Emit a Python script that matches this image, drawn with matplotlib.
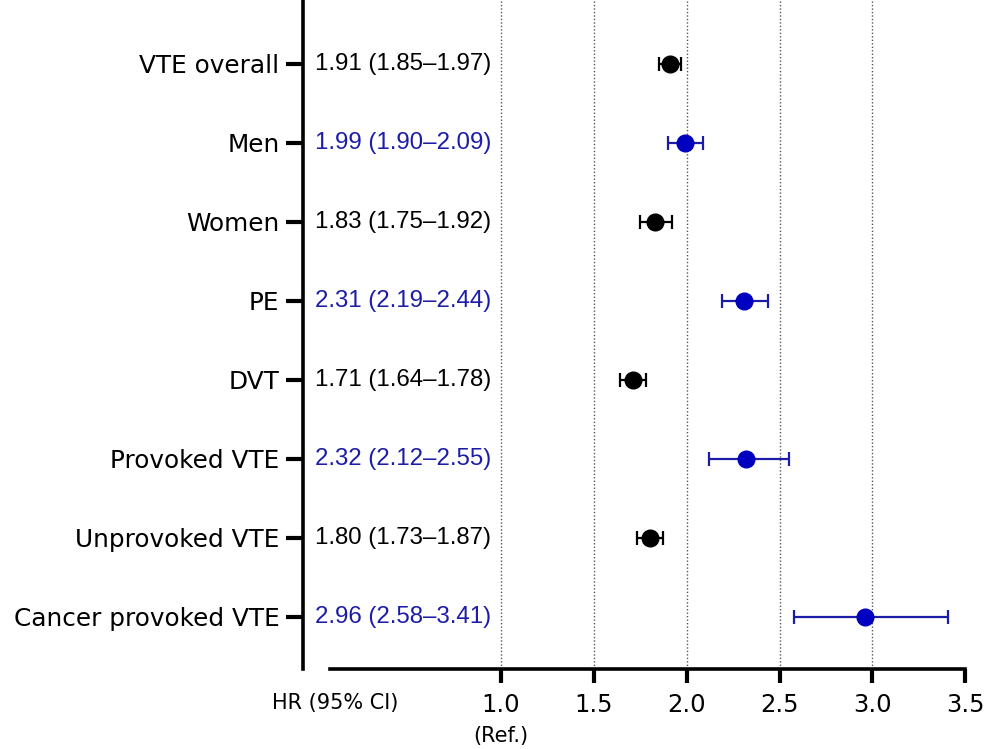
import matplotlib.pyplot as plt

# forest plot data
groups = ['VTE overall', 'Men', 'Women', 'PE', 'DVT', 'Provoked VTE',
          'Unprovoked VTE', 'Cancer provoked VTE']
hr = [1.91, 1.99, 1.83, 2.31, 1.71, 2.32, 1.80, 2.96]
lo = [1.85, 1.90, 1.75, 2.19, 1.64, 2.12, 1.73, 2.58]
hi = [1.97, 2.09, 1.92, 2.44, 1.78, 2.55, 1.87, 3.41]
xticks = [1.0, 1.5, 2.0, 2.5, 3.0, 3.5]

black = '#000000'
blue = '#1c1ca8'

fig = plt.figure(figsize=(9.86, 7.49), dpi=100)
ax = fig.add_axes([303/986, 1 - 669/749, (967 - 303)/986, 669/749])

for i in range(len(groups)):
    c = black if i % 2 == 0 else blue
    mc = black if i % 2 == 0 else '#0000c0'
    ax.errorbar(hr[i], i, xerr=[[hr[i] - lo[i]], [hi[i] - hr[i]]], fmt='o',
                color=c, mfc=mc, mec=mc, ms=12, elinewidth=1.6, capsize=5,
                capthick=1.6, zorder=3)
    ax.text(0.0, i, '%.2f (%.2f\u2013%.2f)' % (hr[i], lo[i], hi[i]),
            color=c, fontsize=17.3, family='Liberation Sans', va='center', ha='left')

for x in xticks[:-1]:
    ax.axvline(x, color='#555555', linestyle=(0, (1, 1.5)), linewidth=1.0, zorder=1)

ax.set_xlim(-0.067, 3.51)
ax.set_ylim(7.66, -0.81)
ax.set_yticks(range(len(groups)))
ax.set_yticklabels(groups, fontsize=17.8)
ax.set_xticks(xticks)
ax.set_xticklabels(['%.1f' % x for x in xticks], fontsize=17.5)
ax.tick_params(axis='y', length=12, width=3, pad=5)
ax.tick_params(axis='x', length=10, width=3, pad=7)

ax.spines['top'].set_visible(False)
ax.spines['right'].set_visible(False)
ax.spines['left'].set_linewidth(2.6)
ax.spines['bottom'].set_linewidth(2.6)
ax.spines['bottom'].set_bounds(0.08, 3.5)

fig.text(335/986, 1 - 703/749, 'HR (95% CI)', fontsize=15, ha='center', va='center')
fig.text(501/986, 1 - 736/749, '(Ref.)', fontsize=15, ha='center', va='center')

plt.savefig('out.png', dpi=100)
